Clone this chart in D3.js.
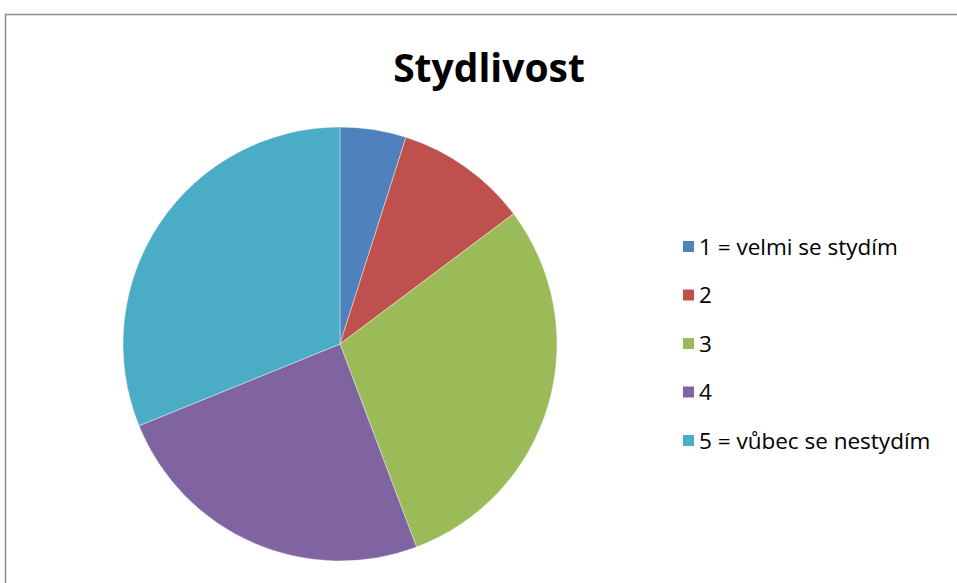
<!DOCTYPE html>
<html><head><meta charset="utf-8">
<script src="https://cdn.jsdelivr.net/npm/d3@7"></script>
<style>body{margin:0;background:#fff}svg{display:block}</style>
</head><body>
<script>
const title = "Stydlivost";
const categories = ["1 = velmi se stydím", "2", "3", "4", "5 = vůbec se nestydím"];
const values = [3, 6, 18, 15, 19];
const colors = ["#4F81BD", "#C0504D", "#9BBB59", "#8064A2", "#4BACC6"];

const W = 957, H = 583;
const svg = d3.select("body").append("svg").attr("width", W).attr("height", H);
svg.append("rect").attr("x", 5.5).attr("y", 14.5).attr("width", W).attr("height", H)
  .attr("fill", "#fff").attr("stroke", "#8c8c8c").attr("stroke-width", 1.5);

svg.append("text").attr("x", 489).attr("y", 82).attr("text-anchor", "middle")
  .attr("font-family", "'Open Sans', sans-serif").attr("font-weight", "bold")
  .attr("font-size", 39).attr("fill", "#000").text(title);

const cx = 340, cy = 344, r = 217;
const pie = d3.pie().sort(null).value(d => d)(values);
const arc = d3.arc().innerRadius(0).outerRadius(r);
const g = svg.append("g").attr("transform", `translate(${cx},${cy})`);
g.selectAll("path").data(pie).join("path")
  .attr("d", arc).attr("fill", (d, i) => colors[i])
  .attr("stroke", "#fff").attr("stroke-opacity", 0.5).attr("stroke-width", 0.8);

const y = d3.scalePoint().domain(categories).range([247, 441]);
const lg = svg.append("g");
const items = lg.selectAll("g").data(categories).join("g")
  .attr("transform", d => `translate(683,${y(d)})`);
items.append("rect").attr("x", 0).attr("y", -6).attr("width", 11).attr("height", 11)
  .attr("fill", (d, i) => colors[i]);
items.append("text").attr("x", 16).attr("y", 0).attr("dy", "0.35em")
  .attr("font-family", "'Open Sans', sans-serif").attr("font-size", 22.5).attr("fill", "#000")
  .text(d => d);
</script>
</body></html>
